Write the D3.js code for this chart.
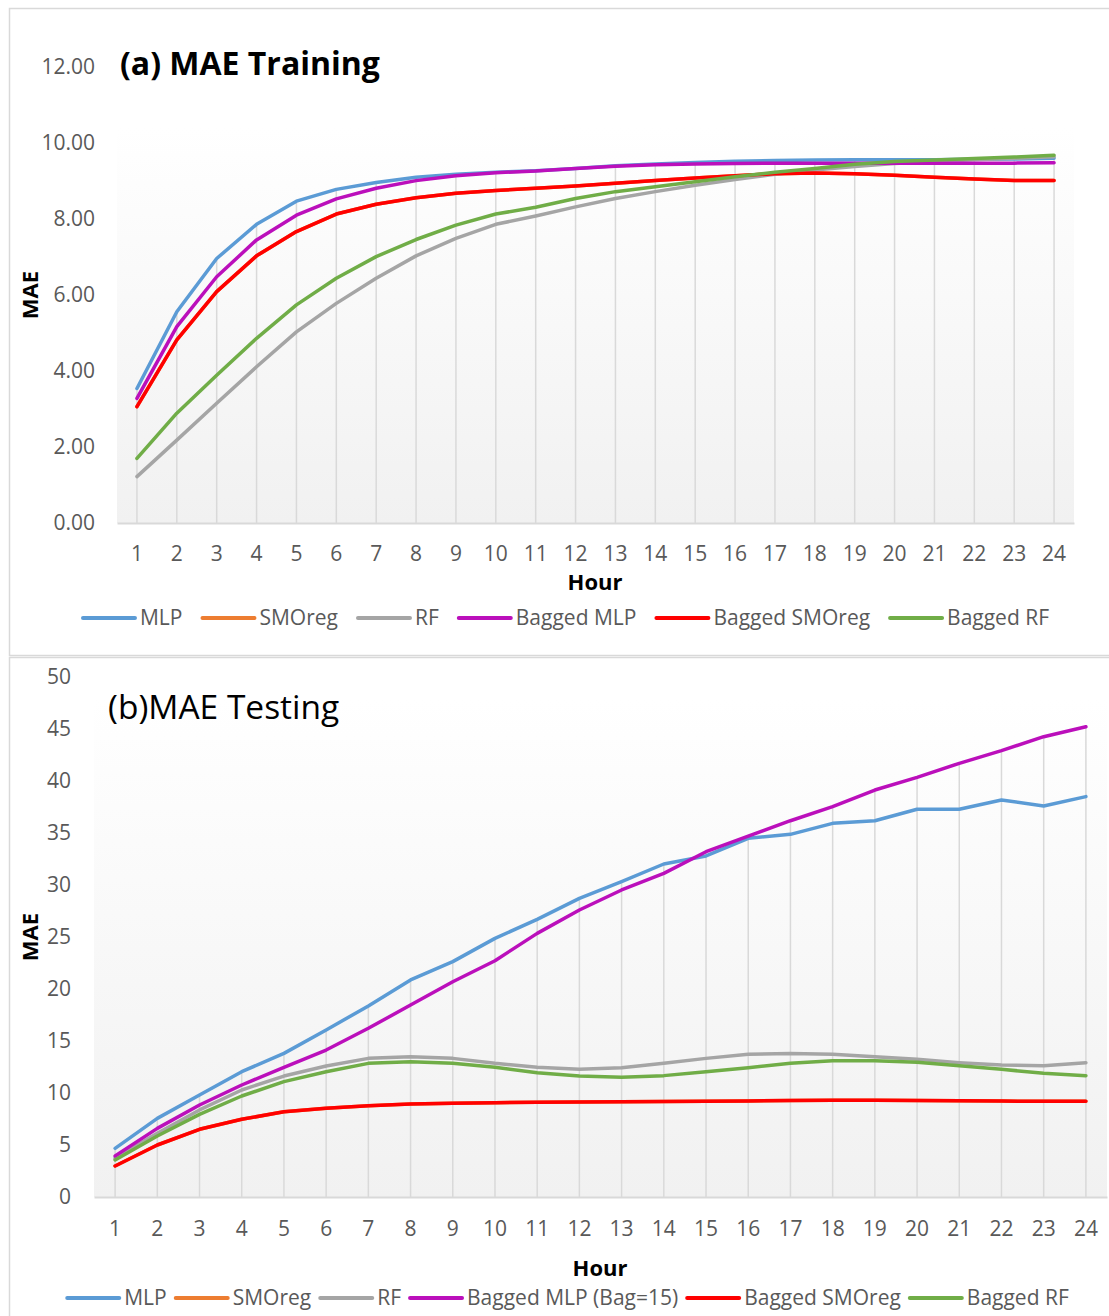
<!DOCTYPE html>
<html>
<head>
<meta charset="utf-8">
<script src="https://cdn.jsdelivr.net/npm/d3@7"></script>
<style>
  body { margin: 0; background: #fff; }
  svg { display: block; font-family: "Open Sans", "Noto Sans", sans-serif; }
</style>
</head>
<body>
<div id="chart"></div>
<script>
// categories
var hours = d3.range(1, 25).map(String);

var seriesNames = ["MLP", "SMOreg", "RF", "Bagged MLP", "Bagged SMOreg", "Bagged RF"];
var testNames = ["MLP", "SMOreg", "RF", "Bagged MLP (Bag=15)", "Bagged SMOreg", "Bagged RF"];
var colors = ["#5B9BD5", "#ED7D31", "#A5A5A5", "#BB0FBB", "#FF0000", "#70AD47"];

// (a) training MAE
var mlpTrain    = [3.54, 5.56, 6.96, 7.86, 8.47, 8.78, 8.96, 9.10, 9.18, 9.23, 9.27, 9.33, 9.40, 9.45, 9.49, 9.52, 9.54, 9.55, 9.56, 9.56, 9.56, 9.57, 9.58, 9.60];
var bagSmoTrain = [3.06, 4.82, 6.09, 7.03, 7.67, 8.13, 8.39, 8.56, 8.68, 8.75, 8.81, 8.87, 8.94, 9.01, 9.08, 9.14, 9.19, 9.21, 9.19, 9.15, 9.10, 9.05, 9.01, 9.01];
var smoTrain    = bagSmoTrain.slice(); // hidden under Bagged SMOreg
var rfTrain     = [1.22, 2.18, 3.15, 4.11, 5.03, 5.78, 6.44, 7.03, 7.49, 7.86, 8.08, 8.32, 8.54, 8.72, 8.89, 9.04, 9.18, 9.29, 9.38, 9.46, 9.51, 9.56, 9.60, 9.64];
var bagMlpTrain = [3.28, 5.17, 6.48, 7.45, 8.10, 8.53, 8.81, 9.01, 9.14, 9.22, 9.26, 9.33, 9.39, 9.43, 9.45, 9.46, 9.47, 9.47, 9.47, 9.47, 9.47, 9.47, 9.47, 9.48];
var bagRfTrain  = [1.70, 2.89, 3.89, 4.86, 5.74, 6.44, 7.01, 7.46, 7.84, 8.13, 8.31, 8.54, 8.72, 8.85, 8.98, 9.11, 9.23, 9.33, 9.44, 9.51, 9.55, 9.59, 9.63, 9.68];

// (b) testing MAE
var mlpTest    = [4.68, 7.56, 9.81, 12.05, 13.81, 16.06, 18.37, 20.87, 22.63, 24.87, 26.70, 28.72, 30.32, 32.02, 32.79, 34.49, 34.87, 35.93, 36.18, 37.28, 37.28, 38.17, 37.60, 38.50];
var bagSmoTest = [2.98, 5.00, 6.51, 7.47, 8.20, 8.53, 8.78, 8.94, 9.01, 9.07, 9.10, 9.13, 9.15, 9.18, 9.20, 9.24, 9.27, 9.30, 9.30, 9.28, 9.25, 9.22, 9.20, 9.20];
var smoTest    = bagSmoTest.slice();
var rfTest     = [3.72, 6.12, 8.37, 10.29, 11.63, 12.60, 13.33, 13.49, 13.33, 12.85, 12.47, 12.28, 12.43, 12.85, 13.33, 13.72, 13.81, 13.72, 13.49, 13.24, 12.92, 12.69, 12.63, 12.92];
var bagMlpTest = [3.94, 6.60, 8.85, 10.77, 12.47, 14.13, 16.22, 18.46, 20.70, 22.72, 25.35, 27.60, 29.52, 31.12, 33.20, 34.71, 36.18, 37.53, 39.13, 40.35, 41.70, 42.92, 44.26, 45.22];
var bagRfTest  = [3.56, 5.87, 7.95, 9.71, 11.09, 12.05, 12.85, 13.01, 12.85, 12.47, 11.95, 11.63, 11.51, 11.67, 12.05, 12.43, 12.85, 13.11, 13.11, 12.95, 12.63, 12.28, 11.89, 11.67];

var trainTicks = [0, 2, 4, 6, 8, 10, 12];
var testTicks = [0, 5, 10, 15, 20, 25, 30, 35, 40, 45, 50];

var svg = d3.select("#chart").append("svg")
    .attr("width", 1109)
    .attr("height", 1316);

var defs = svg.append("defs");
var grad = defs.append("linearGradient")
    .attr("id", "plotBg")
    .attr("x1", 0).attr("y1", 0).attr("x2", 0).attr("y2", 1);
grad.append("stop").attr("offset", "0%").attr("stop-color", "#ffffff");
grad.append("stop").attr("offset", "100%").attr("stop-color", "#f1f1f1");

function drawChart(cfg) {
  var g = svg.append("g");

  // outer frame
  g.append("rect")
      .attr("x", cfg.frame[0]).attr("y", cfg.frame[1])
      .attr("width", cfg.frame[2]).attr("height", cfg.frame[3])
      .attr("fill", "#fff")
      .attr("stroke", "#d9d9d9")
      .attr("stroke-width", 1.5);

  var x = d3.scaleBand().domain(hours).range([cfg.left, cfg.right]);
  var y = d3.scaleLinear().domain([0, cfg.ymax]).range([cfg.bottom, cfg.top]);
  var cx = function(i) { return x(hours[i]) + x.bandwidth() / 2; };

  // plot area
  g.append("rect")
      .attr("x", cfg.left).attr("y", cfg.bgTop)
      .attr("width", cfg.right - cfg.left).attr("height", cfg.bottom - cfg.bgTop)
      .attr("fill", "url(#plotBg)");

  // drop lines from highest series value to the axis
  g.selectAll(".drop")
    .data(hours)
    .enter()
    .append("line")
      .attr("x1", function(d, i) { return cx(i); })
      .attr("x2", function(d, i) { return cx(i); })
      .attr("y1", function(d, i) { return y(d3.max(cfg.series, function(s) { return s[i]; })); })
      .attr("y2", y(0))
      .attr("stroke", "#d9d9d9")
      .attr("stroke-width", 1.5);

  // category axis
  var xAxis = g.append("g")
      .attr("transform", "translate(0," + y(0) + ")")
      .call(d3.axisBottom(x).tickSize(0).tickPadding(cfg.xPad));
  xAxis.select(".domain").attr("stroke", "#d9d9d9").attr("stroke-width", 2);
  xAxis.selectAll("text")
      .attr("fill", "#595959")
      .style("font-size", "21px")
      .style("font-family", "'Open Sans', sans-serif");

  // value axis
  var yAxis = g.append("g")
      .attr("transform", "translate(" + cfg.left + ",0)")
      .call(d3.axisLeft(y).tickValues(cfg.ticks).tickFormat(cfg.fmt).tickSize(0).tickPadding(cfg.yPad));
  yAxis.select(".domain").remove();
  yAxis.selectAll("text")
      .attr("fill", "#595959")
      .style("font-size", "21px")
      .style("font-family", "'Open Sans', sans-serif");

  // series lines
  var line = d3.line()
      .x(function(d, i) { return cx(i); })
      .y(function(d) { return y(d); });

  cfg.series.forEach(function(s, k) {
    g.append("path")
        .datum(s)
        .attr("d", line)
        .attr("fill", "none")
        .attr("stroke", colors[k])
        .attr("stroke-width", 3.5)
        .attr("stroke-linejoin", "round")
        .attr("stroke-linecap", "round");
  });

  // titles
  g.append("text")
      .attr("x", cfg.titleX).attr("y", cfg.titleY)
      .attr("font-size", cfg.titleSize)
      .attr("font-weight", cfg.titleWeight)
      .attr("fill", "#000")
      .text(cfg.title);

  g.append("text")
      .attr("x", cfg.hourX).attr("y", cfg.hourY)
      .attr("text-anchor", "middle")
      .attr("font-size", 22)
      .attr("font-weight", "bold")
      .attr("fill", "#000")
      .text("Hour");

  g.append("text")
      .attr("transform", "translate(" + cfg.maeX + "," + cfg.maeY + ") rotate(-90)")
      .attr("text-anchor", "middle")
      .attr("font-size", 22)
      .attr("font-weight", "bold")
      .attr("fill", "#000")
      .text("MAE");

  // legend
  var leg = g.append("g");
  var pos = 0;
  cfg.names.forEach(function(n, k) {
    var item = leg.append("g").attr("transform", "translate(" + pos + ",0)");
    item.append("line")
        .attr("x1", 0).attr("x2", 52)
        .attr("y1", 0).attr("y2", 0)
        .attr("stroke", colors[k])
        .attr("stroke-width", 4)
        .attr("stroke-linecap", "round");
    var t = item.append("text")
        .attr("x", 57).attr("y", 7)
        .attr("font-size", 21)
        .attr("fill", "#595959")
        .text(n);
    pos += 57 + t.node().getComputedTextLength() + cfg.legGap;
  });
  var legW = pos - cfg.legGap;
  leg.attr("transform", "translate(" + (cfg.legCenter - legW / 2) + "," + cfg.legY + ")");
}

drawChart({
  frame: [9.5, 8.5, 1110, 647],
  left: 117, right: 1074, top: 67, bottom: 523, bgTop: 127,
  ymax: 12, ticks: trainTicks, fmt: d3.format(".2f"),
  xPad: 23, yPad: 22,
  series: [mlpTrain, smoTrain, rfTrain, bagMlpTrain, bagSmoTrain, bagRfTrain],
  names: seriesNames,
  title: "(a) MAE Training", titleX: 120, titleY: 75, titleSize: 32, titleWeight: "bold",
  hourX: 595, hourY: 590, maeX: 38, maeY: 295,
  legCenter: 566, legY: 618, legGap: 20
});

drawChart({
  frame: [9.5, 657.5, 1110, 670],
  left: 94, right: 1107, top: 677, bottom: 1197, bgTop: 700,
  ymax: 50, ticks: testTicks, fmt: d3.format("d"),
  xPad: 24, yPad: 23,
  series: [mlpTest, smoTest, rfTest, bagMlpTest, bagSmoTest, bagRfTest],
  names: testNames,
  title: "(b)MAE Testing", titleX: 108, titleY: 719, titleSize: 33.5, titleWeight: "normal",
  hourX: 600, hourY: 1276, maeX: 38, maeY: 937,
  legCenter: 568, legY: 1298, legGap: 9
});
</script>
</body>
</html>
